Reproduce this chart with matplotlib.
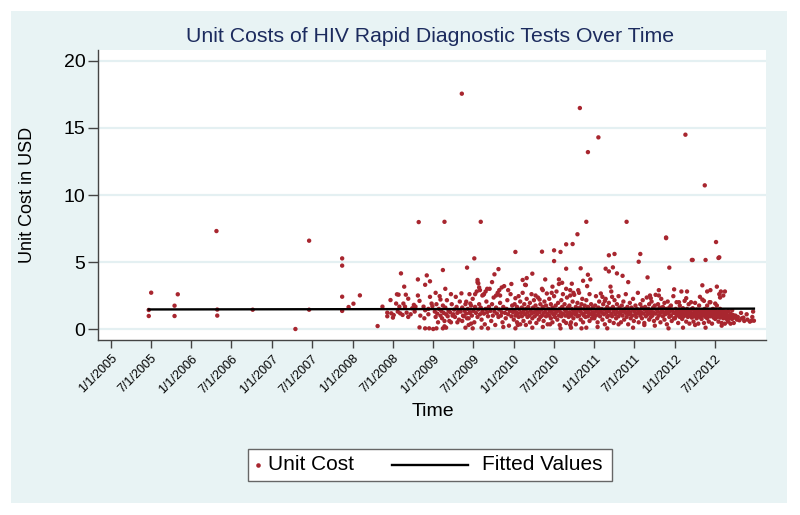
import matplotlib
matplotlib.use("Agg")
import matplotlib.pyplot as plt
from matplotlib.lines import Line2D
from matplotlib.patches import Rectangle
import datetime as dt

# ---------------- data (decimal year, unit cost USD) ----------------
obs_early = [(2005.47, 1.42), (2005.47, 0.97), (2005.50, 2.71), (2005.79, 1.74), (2005.79, 0.97),
             (2005.83, 2.59), (2006.31, 7.31), (2006.32, 1.45), (2006.32, 1.0), (2006.76, 1.44),
             (2007.29, 0.0), (2007.46, 6.59), (2007.46, 1.44), (2007.87, 5.27), (2007.87, 4.73),
             (2007.87, 2.41), (2007.87, 1.35), (2007.95, 1.64), (2008.01, 1.89), (2008.09, 2.51)]

obs_2008 = [(2008.31, 0.22), (2008.37, 1.67), (2008.43, 1.22), (2008.43, 0.95), (2008.47, 2.16),
            (2008.48, 1.17), (2008.50, 0.85), (2008.51, 1.04), (2008.54, 1.9), (2008.55, 2.59),
            (2008.56, 1.3), (2008.57, 2.56), (2008.58, 1.67), (2008.59, 1.17), (2008.60, 4.15),
            (2008.62, 1.05), (2008.63, 1.9), (2008.64, 3.16), (2008.65, 1.67), (2008.66, 2.56),
            (2008.67, 1.22), (2008.69, 0.9), (2008.69, 2.26), (2008.72, 1.1), (2008.74, 1.55),
            (2008.76, 1.8), (2008.77, 1.3), (2008.78, 1.67), (2008.81, 2.5), (2008.81, 3.7),
            (2008.82, 7.98), (2008.83, 2.1), (2008.83, 0.12), (2008.84, 1.0), (2008.88, 1.67),
            (2008.89, 0.8), (2008.90, 1.4), (2008.90, 0.05), (2008.90, 3.3), (2008.92, 4.0),
            (2008.94, 1.5), (2008.94, 1.1), (2008.95, 0.05), (2008.96, 3.56), (2008.96, 2.4),
            (2008.98, 1.9), (2008.99, 1.7)]

obs_2009 = [(2009.00, 0.0), (2009.09, 2.2), (2009.12, 4.4), (2009.12, 0.05), (2009.14, 8.0),
            (2009.14, 0.2), (2009.355, 17.56), (2009.42, 4.58), (2009.51, 5.27), (2009.59, 8.0),
            (2009.55, 3.66), (2009.55, 3.49), (2009.57, 3.1), (2009.67, 3.0), (2009.65, 2.8),
            (2009.81, 4.47), (2009.76, 4.08), (2009.97, 3.36), (2009.56, 3.4), (2009.82, 2.9),
            (2009.83, 2.5), (2009.45, 2.6), (2009.52, 2.6), (2009.61, 2.5),
            (2009.25, 1.1), (2009.31, 1.3), (2009.37, 1.0), (2009.42, 0.8), (2009.45, 1.2),
            (2009.46, 1.9), (2009.28, 2.4), (2009.35, 2.66), (2009.41, 2.04), (2009.20, 0.6),
            (2009.30, 0.5), (2009.36, 0.6), (2009.44, 0.3), (2009.47, 0.4),
            (2009.04, 0.05), (2009.16, 0.1), (2009.40, 0.1), (2009.49, 0.05), (2009.60, 0.1),
            (2009.68, 0.05), (2009.87, 0.15),
            (2009.03, 2.7), (2009.15, 3.0), (2009.22, 2.6), (2009.58, 2.9), (2009.63, 2.6),
            (2009.78, 2.5), (2009.93, 2.9), (2009.73, 3.5), (2009.85, 3.1),
            (2009.02, 1.3), (2009.03, 0.9), (2009.04, 1.85), (2009.05, 1.15), (2009.06, 0.5),
            (2009.07, 1.5), (2009.08, 2.45), (2009.09, 1.0), (2009.10, 1.35), (2009.11, 0.8),
            (2009.12, 1.75), (2009.13, 1.2), (2009.14, 0.6), (2009.15, 1.6), (2009.16, 1.1),
            (2009.17, 2.15), (2009.18, 0.95), (2009.19, 1.35), (2009.21, 1.25), (2009.22, 0.5),
            (2009.23, 1.85), (2009.24, 1.0), (2009.26, 1.45), (2009.27, 0.9), (2009.29, 1.65),
            (2009.30, 1.2), (2009.32, 0.7), (2009.33, 2.05), (2009.34, 1.3), (2009.36, 1.6),
            (2009.38, 0.95), (2009.39, 1.35), (2009.40, 1.85), (2009.41, 1.15), (2009.43, 1.5),
            (2009.44, 0.8), (2009.46, 1.25), (2009.47, 1.75), (2009.48, 1.0), (2009.49, 2.25),
            (2009.50, 1.35), (2009.51, 0.5), (2009.52, 1.65), (2009.53, 1.2), (2009.54, 2.8),
            (2009.55, 0.9), (2009.56, 1.45), (2009.57, 1.85), (2009.58, 1.1), (2009.59, 1.6),
            (2009.60, 0.7), (2009.61, 1.3), (2009.62, 2.55), (2009.63, 1.15), (2009.64, 0.35),
            (2009.65, 1.5), (2009.66, 2.05), (2009.67, 1.25), (2009.68, 0.95), (2009.69, 1.65),
            (2009.70, 3.0), (2009.71, 1.35), (2009.72, 0.6), (2009.73, 1.85), (2009.74, 1.0),
            (2009.75, 2.35), (2009.76, 1.3), (2009.77, 0.3), (2009.78, 1.6), (2009.79, 1.15),
            (2009.80, 2.7), (2009.81, 0.9), (2009.82, 1.45), (2009.83, 1.95), (2009.84, 1.0),
            (2009.85, 1.25), (2009.86, 0.5), (2009.87, 1.65), (2009.88, 3.2), (2009.89, 1.2),
            (2009.90, 0.8), (2009.91, 1.5), (2009.92, 2.15), (2009.93, 1.1), (2009.94, 0.25),
            (2009.95, 1.35), (2009.96, 2.6), (2009.97, 0.95), (2009.98, 1.75), (2009.99, 1.25)]

obs_2010 = [(2010.02, 5.75), (2010.35, 5.77), (2010.50, 5.87), (2010.58, 5.75), (2010.50, 5.07),
            (2010.65, 6.32), (2010.73, 6.34), (2010.79, 7.07), (2010.90, 8.0), (2010.82, 16.49),
            (2010.92, 13.2), (2010.83, 4.53), (2010.65, 4.5), (2010.92, 4.05), (2010.86, 3.6),
            (2010.95, 3.7), (2010.91, 3.2), (2010.80, 2.9), (2010.74, 2.7), (2010.70, 2.5),
            (2010.11, 3.66), (2010.16, 3.8), (2010.23, 4.13), (2010.15, 3.28), (2010.56, 3.7),
            (2010.56, 3.36), (2010.48, 3.16), (2010.65, 3.0), (2010.72, 3.38), (2010.39, 3.7),
            (2010.60, 3.45), (2010.27, 2.5), (2010.32, 2.2), (2010.36, 2.9), (2010.47, 2.7),
            (2010.02, 2.3), (2010.14, 3.3),
            (2010.02, 0.05), (2010.23, 0.1), (2010.58, 0.05), (2010.71, 0.1), (2010.84, 0.05),
            (2010.90, 0.1), (2010.05, 0.3), (2010.45, 0.35), (2010.70, 0.3), (2010.36, 0.15),
            (2010.00, 1.35), (2010.00, 0.7), (2010.01, 1.85), (2010.02, 1.0), (2010.03, 1.25),
            (2010.04, 0.5), (2010.04, 1.65), (2010.05, 1.15), (2010.06, 2.45), (2010.06, 0.9),
            (2010.07, 1.45), (2010.08, 0.35), (2010.08, 2.05), (2010.09, 1.2), (2010.10, 1.6),
            (2010.10, 0.95), (2010.11, 2.7), (2010.12, 1.3), (2010.12, 0.6), (2010.13, 1.85),
            (2010.14, 1.1), (2010.15, 1.5), (2010.15, 0.3), (2010.16, 2.25), (2010.17, 1.25),
            (2010.17, 0.9), (2010.18, 1.65), (2010.19, 1.0), (2010.20, 1.95), (2010.20, 0.5),
            (2010.21, 1.35), (2010.22, 2.6), (2010.22, 1.15), (2010.23, 0.8), (2010.24, 1.6),
            (2010.25, 1.25), (2010.25, 2.15), (2010.26, 0.95), (2010.27, 1.75), (2010.28, 0.45),
            (2010.28, 1.35), (2010.29, 1.1), (2010.30, 2.35), (2010.30, 1.5), (2010.31, 0.7),
            (2010.32, 1.25), (2010.33, 1.85), (2010.33, 0.9), (2010.34, 1.45), (2010.35, 1.0),
            (2010.35, 3.0), (2010.36, 1.65), (2010.37, 0.6), (2010.37, 1.2), (2010.38, 2.05),
            (2010.39, 1.3), (2010.40, 0.95), (2010.40, 1.75), (2010.41, 2.65), (2010.42, 1.15),
            (2010.42, 0.35), (2010.43, 1.5), (2010.44, 2.25), (2010.44, 1.0), (2010.45, 1.35),
            (2010.46, 0.8), (2010.46, 1.85), (2010.47, 1.25), (2010.48, 1.6), (2010.48, 0.5),
            (2010.49, 1.1), (2010.50, 2.45), (2010.50, 1.45), (2010.51, 0.9), (2010.52, 1.75),
            (2010.52, 1.2), (2010.53, 2.8), (2010.54, 0.7), (2010.54, 1.35), (2010.55, 1.95),
            (2010.56, 1.0), (2010.57, 1.5), (2010.57, 0.3), (2010.58, 1.25), (2010.59, 2.15),
            (2010.59, 0.95), (2010.60, 1.65), (2010.61, 1.15), (2010.61, 2.6), (2010.62, 0.6),
            (2010.63, 1.45), (2010.63, 1.85), (2010.64, 1.0), (2010.65, 1.3), (2010.65, 0.45),
            (2010.66, 2.35), (2010.67, 1.6), (2010.67, 1.1), (2010.68, 0.9), (2010.69, 1.75),
            (2010.69, 1.25), (2010.70, 2.9), (2010.71, 1.0), (2010.71, 0.5), (2010.72, 1.5),
            (2010.73, 2.05), (2010.73, 1.2), (2010.74, 0.8), (2010.75, 1.35), (2010.75, 2.55),
            (2010.76, 1.1), (2010.77, 1.65), (2010.77, 0.35), (2010.78, 1.25), (2010.79, 1.95),
            (2010.79, 0.95), (2010.80, 1.45), (2010.81, 1.0), (2010.81, 2.7), (2010.82, 1.6),
            (2010.83, 0.7), (2010.83, 1.3), (2010.84, 1.85), (2010.85, 1.15), (2010.85, 2.25),
            (2010.86, 0.5), (2010.87, 1.5), (2010.87, 1.0), (2010.88, 1.75), (2010.89, 1.25),
            (2010.89, 0.9), (2010.90, 2.15), (2010.91, 1.35), (2010.92, 0.95), (2010.92, 1.65),
            (2010.93, 1.2), (2010.94, 2.6), (2010.94, 0.6), (2010.95, 1.45), (2010.96, 1.1),
            (2010.96, 1.85), (2010.97, 0.8), (2010.98, 1.6), (2010.98, 1.25), (2010.99, 1.0)]

obs_2011 = [(2011.05, 14.3), (2011.40, 8.0), (2011.18, 5.5), (2011.25, 5.6), (2011.57, 5.6),
            (2011.55, 5.02), (2011.14, 4.5), (2011.23, 4.6), (2011.18, 4.3), (2011.28, 4.15),
            (2011.35, 3.97), (2011.42, 3.5), (2011.66, 3.85), (2011.89, 6.83), (2011.89, 6.78),
            (2011.93, 4.58), (2011.20, 3.16), (2011.10, 2.4), (2011.22, 2.4), (2011.13, 2.1),
            (2011.69, 2.5), (2011.70, 2.3), (2011.80, 2.9), (2011.80, 2.5),
            (2011.04, 0.15), (2011.16, 0.05), (2011.48, 0.1), (2011.92, 0.05), (2011.30, 0.35),
            (2011.62, 0.3), (2011.75, 0.25),
            (2011.00, 1.25), (2011.00, 0.8), (2011.01, 1.75), (2011.02, 1.0), (2011.02, 2.45),
            (2011.03, 1.35), (2011.04, 0.5), (2011.05, 1.6), (2011.05, 1.15), (2011.06, 2.05),
            (2011.07, 0.95), (2011.07, 1.3), (2011.08, 2.65), (2011.09, 1.5), (2011.10, 0.7),
            (2011.10, 1.2), (2011.11, 1.85), (2011.12, 1.1), (2011.13, 1.45), (2011.13, 0.35),
            (2011.14, 2.25), (2011.15, 1.25), (2011.16, 0.9), (2011.16, 1.65), (2011.17, 1.0),
            (2011.18, 1.95), (2011.18, 1.35), (2011.19, 0.6), (2011.20, 1.5), (2011.21, 1.15),
            (2011.21, 2.8), (2011.22, 0.95), (2011.23, 1.65), (2011.24, 1.3), (2011.24, 0.45),
            (2011.25, 2.15), (2011.26, 1.1), (2011.27, 1.45), (2011.27, 0.8), (2011.28, 1.85),
            (2011.29, 1.25), (2011.30, 0.95), (2011.30, 2.45), (2011.31, 1.6), (2011.32, 1.15),
            (2011.33, 0.5), (2011.33, 1.35), (2011.34, 1.75), (2011.35, 1.0), (2011.36, 2.05),
            (2011.36, 1.3), (2011.37, 0.7), (2011.38, 1.5), (2011.39, 1.2), (2011.39, 2.6),
            (2011.40, 0.9), (2011.41, 1.65), (2011.42, 1.35), (2011.42, 0.35), (2011.43, 1.1),
            (2011.44, 1.95), (2011.45, 1.25), (2011.45, 0.8), (2011.46, 1.6), (2011.47, 1.0),
            (2011.48, 2.25), (2011.48, 1.45), (2011.49, 0.6), (2011.50, 1.3), (2011.51, 1.75),
            (2011.51, 1.1), (2011.52, 0.9), (2011.53, 1.5), (2011.54, 1.2), (2011.54, 2.7),
            (2011.55, 0.5), (2011.56, 1.35), (2011.57, 1.85), (2011.57, 1.0), (2011.58, 1.25),
            (2011.59, 0.8), (2011.59, 1.6), (2011.60, 2.15), (2011.61, 1.15), (2011.62, 1.45),
            (2011.62, 0.45), (2011.63, 1.65), (2011.64, 0.95), (2011.65, 1.3), (2011.65, 2.35),
            (2011.66, 1.1), (2011.67, 1.5), (2011.68, 0.7), (2011.68, 1.85), (2011.69, 1.2),
            (2011.70, 1.35), (2011.70, 0.9), (2011.71, 2.05), (2011.72, 1.0), (2011.73, 1.6),
            (2011.73, 1.25), (2011.74, 0.6), (2011.75, 1.75), (2011.76, 1.15), (2011.76, 2.55),
            (2011.77, 1.45), (2011.78, 0.8), (2011.79, 1.3), (2011.79, 1.85), (2011.80, 1.0),
            (2011.81, 1.6), (2011.82, 0.5), (2011.82, 1.2), (2011.83, 2.25), (2011.84, 1.35),
            (2011.85, 0.95), (2011.85, 1.65), (2011.86, 1.25), (2011.87, 1.95), (2011.87, 0.7),
            (2011.88, 1.1), (2011.89, 1.5), (2011.90, 1.3), (2011.90, 0.35), (2011.91, 2.05),
            (2011.92, 1.15), (2011.93, 0.9), (2011.93, 1.6), (2011.94, 1.35), (2011.95, 1.75),
            (2011.95, 1.0), (2011.96, 0.6), (2011.97, 1.45), (2011.98, 1.2), (2011.98, 2.45),
            (2011.99, 0.8)]

obs_2012 = [(2012.13, 14.5), (2012.37, 10.72), (2012.51, 6.49), (2012.21, 5.15), (2012.22, 5.15),
            (2012.38, 5.15), (2012.54, 5.3), (2012.55, 5.35), (2012.34, 3.26), (2012.52, 3.16),
            (2012.57, 2.8), (2012.55, 2.6), (2012.56, 2.35), (2011.99, 2.96), (2012.08, 2.8),
            (2012.15, 2.8), (2012.62, 2.8), (2012.60, 2.5), (2012.05, 2.0), (2012.14, 2.3),
            (2012.20, 2.0), (2012.36, 2.1), (2012.31, 2.4), (2012.43, 2.0), (2012.50, 1.9),
            (2012.40, 2.8), (2012.44, 2.9), (2012.71, 1.4), (2012.82, 1.2), (2012.89, 1.1),
            (2012.10, 0.1), (2012.38, 0.1), (2012.25, 0.3), (2012.58, 0.25),
            (2012.00, 1.2), (2012.00, 0.8), (2012.01, 1.5), (2012.02, 1.0), (2012.02, 2.0),
            (2012.03, 1.3), (2012.04, 0.45), (2012.04, 1.1), (2012.05, 1.45), (2012.06, 0.9),
            (2012.06, 1.75), (2012.07, 1.2), (2012.08, 1.0), (2012.08, 1.35), (2012.09, 0.75),
            (2012.10, 1.55), (2012.10, 1.15), (2012.11, 0.95), (2012.12, 1.4), (2012.12, 2.1),
            (2012.13, 1.05), (2012.14, 0.55), (2012.14, 1.25), (2012.15, 1.5), (2012.16, 0.9),
            (2012.16, 1.1), (2012.17, 1.85), (2012.18, 1.3), (2012.18, 0.4), (2012.19, 1.0),
            (2012.20, 1.45), (2012.20, 1.2), (2012.21, 0.85), (2012.22, 1.55), (2012.23, 1.1),
            (2012.23, 0.55), (2012.24, 1.35), (2012.25, 0.95), (2012.25, 1.95), (2012.26, 1.2),
            (2012.27, 0.8), (2012.27, 1.45), (2012.28, 1.05), (2012.29, 1.3), (2012.29, 0.4),
            (2012.30, 1.75), (2012.31, 0.9), (2012.32, 1.15), (2012.32, 1.4), (2012.33, 0.75),
            (2012.34, 1.25), (2012.34, 2.2), (2012.35, 1.0), (2012.36, 0.45), (2012.36, 1.35),
            (2012.37, 1.5), (2012.38, 0.9), (2012.38, 1.15), (2012.39, 1.3), (2012.40, 0.8),
            (2012.40, 1.75), (2012.41, 1.05), (2012.42, 1.4), (2012.42, 0.55), (2012.43, 1.2),
            (2012.44, 0.95), (2012.44, 2.0), (2012.45, 1.1), (2012.46, 0.4), (2012.46, 1.35),
            (2012.47, 1.5), (2012.48, 0.85), (2012.48, 1.2), (2012.49, 1.0), (2012.50, 1.45),
            (2012.50, 0.75), (2012.51, 1.25), (2012.52, 0.9), (2012.52, 1.75), (2012.53, 1.05),
            (2012.54, 0.55), (2012.54, 1.3), (2012.55, 1.15), (2012.56, 0.85), (2012.56, 1.5),
            (2012.57, 1.0), (2012.58, 0.45), (2012.58, 1.25), (2012.59, 1.4), (2012.60, 0.8),
            (2012.60, 1.1), (2012.61, 0.95), (2012.62, 1.3), (2012.62, 0.4), (2012.63, 1.05),
            (2012.64, 0.75), (2012.64, 1.2), (2012.65, 0.9), (2012.66, 1.35), (2012.66, 0.55),
            (2012.67, 1.0), (2012.68, 0.8), (2012.69, 1.15), (2012.69, 0.4), (2012.70, 0.9),
            (2012.71, 0.75), (2012.72, 1.05), (2012.73, 0.45), (2012.74, 0.85), (2012.75, 1.0),
            (2012.77, 0.7), (2012.78, 0.9), (2012.80, 0.65), (2012.83, 0.8), (2012.85, 0.85),
            (2012.86, 0.6), (2012.90, 0.7), (2012.93, 0.55), (2012.95, 0.62), (2012.96, 0.9),
            (2012.97, 1.3), (2012.98, 0.62)]

fit_dates = [2005.47, 2012.98]
fit_values = [1.46, 1.52]

tick_dates = ["1/1/2005", "7/1/2005", "1/1/2006", "7/1/2006", "1/1/2007", "7/1/2007",
              "1/1/2008", "7/1/2008", "1/1/2009", "7/1/2009", "1/1/2010", "7/1/2010",
              "1/1/2011", "7/1/2011", "1/1/2012", "7/1/2012"]
y_ticks = [0, 5, 10, 15, 20]

title = "Unit Costs of HIV Rapid Diagnostic Tests Over Time"


def to_year(s):
    m, d, y = [int(p) for p in s.split("/")]
    d0 = dt.date(y, 1, 1)
    n = (dt.date(y + 1, 1, 1) - d0).days
    return y + (dt.date(y, m, d) - d0).days / n


all_obs = obs_early + obs_2008 + obs_2009 + obs_2010 + obs_2011 + obs_2012
xs = [p[0] for p in all_obs]
ys = [p[1] for p in all_obs]

# ---------------- figure ----------------
W, H = 800, 515
plt.rcParams['font.family'] = ['Liberation Sans', 'DejaVu Sans']
fig = plt.figure(figsize=(W / 100, H / 100), dpi=100)
fig.patch.set_facecolor('white')

BG = '#E8F3F4'
fig.add_artist(Rectangle((11 / W, 1 - 503 / H), (787 - 11) / W, (503 - 11) / H,
                         transform=fig.transFigure, facecolor=BG, edgecolor='none', zorder=0))

L, R, T, B = 98, 766, 50, 340
ax = fig.add_axes([L / W, 1 - B / H, (R - L) / W, (B - T) / H])
ax.set_facecolor('white')

RED = '#A8262F'
ax.scatter(xs, ys, s=10, color=RED, edgecolors='none', zorder=3)
ax.plot(fit_dates, fit_values, color='black', lw=1.7, zorder=4)

ax.set_xlim(2004.84, 2013.13)
ax.set_ylim(-0.82, 20.82)

ax.set_yticks(y_ticks)
ax.set_yticklabels([str(v) for v in y_ticks], fontsize=14)
ax.yaxis.grid(True, color='#E4F0F2', lw=1.6)
ax.set_axisbelow(True)

xt = [to_year(s) for s in tick_dates]
ax.set_xticks(xt)
ax.set_xticklabels(tick_dates, rotation=45, ha='right', rotation_mode='anchor', fontsize=9)

for s in ['top', 'right']:
    ax.spines[s].set_visible(False)
for s in ['left', 'bottom']:
    ax.spines[s].set_color('#444444')
    ax.spines[s].set_linewidth(1.0)
ax.tick_params(axis='y', length=7, width=1, color='#444444', pad=2)
ax.tick_params(axis='x', length=6, width=1, color='#444444', pad=3)

ax.set_ylabel("Unit Cost in USD", fontsize=13)
ax.yaxis.set_label_coords((36 - L) / (R - L), 0.5)
fig.text(430 / W, 1 - 37 / H, title, ha='center', va='center', fontsize=15.3, color='#1C2B5E')
fig.text(433 / W, 1 - 411 / H, "Time", ha='center', va='center', fontsize=14, color='black')

# legend box
lx0, lx1, ly0, ly1 = 248, 612, 449, 481
fig.add_artist(Rectangle((lx0 / W, 1 - ly1 / H), (lx1 - lx0) / W, (ly1 - ly0) / H,
                         transform=fig.transFigure, facecolor='white', edgecolor='#666666',
                         lw=1.0, zorder=5))
ly = 1 - 465 / H
fig.add_artist(Line2D([258 / W], [ly], marker='o', ms=3.3, color=RED, mec='none',
                      transform=fig.transFigure, zorder=6))
fig.text(268 / W, ly, "Unit Cost", ha='left', va='center', fontsize=15, zorder=6)
fig.add_artist(Line2D([392 / W, 468 / W], [ly, ly], color='black', lw=1.7,
                      transform=fig.transFigure, zorder=6))
fig.text(482 / W, ly, "Fitted Values", ha='left', va='center', fontsize=15, zorder=6)

fig.savefig("out.png", dpi=100, facecolor='white')
